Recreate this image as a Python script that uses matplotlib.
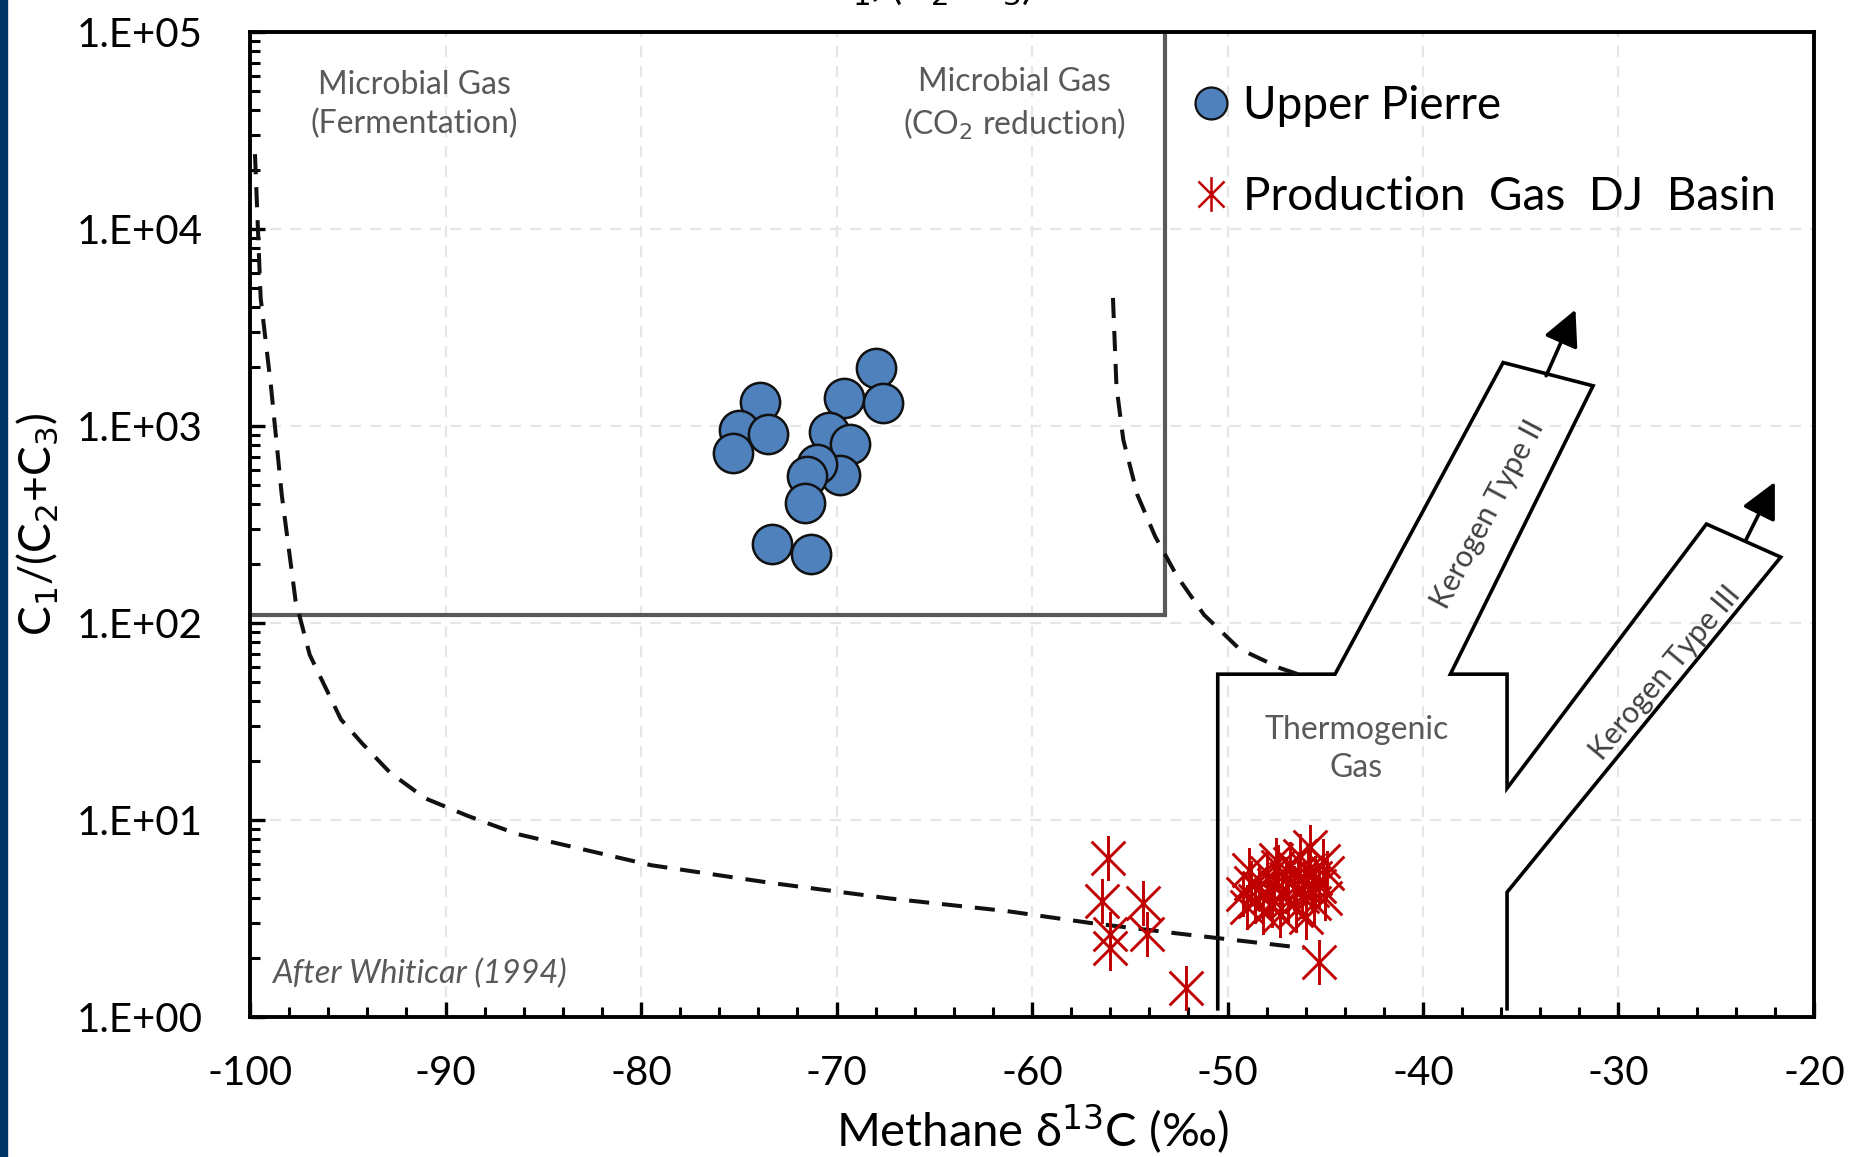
import numpy as np
import matplotlib
matplotlib.use("Agg")
import matplotlib.pyplot as plt
from matplotlib.path import Path
from matplotlib.lines import Line2D
from matplotlib.patches import Rectangle

plt.rcParams['font.family'] = ['Lato', 'DejaVu Sans']

# Upper Pierre samples: methane d13C and C1/(C2+C3)
pierre_d13c = [-73.9, -75.0, -73.5, -75.3, -68.0, -69.6, -67.6, -70.4,
               -69.3, -69.8, -71.0, -71.5, -71.6, -73.3, -71.3]
pierre_ratio = [1330, 950, 910, 730, 1980, 1380, 1310, 930,
                810, 566, 640, 560, 407, 253, 224]

# Production gas, DJ Basin
prod_d13c = [-56.1, -56.4, -54.3, -56.0, -54.1, -56.0, -52.1, -45.3,
             -49.2, -49.0, -48.8, -48.6, -48.4, -48.2, -48.0, -47.9,
             -47.7, -47.6, -47.4, -47.3, -47.2, -47.0, -46.9, -46.8,
             -46.6, -46.5, -46.4, -46.2, -46.1, -46.0, -45.9, -45.8,
             -45.7, -45.6, -45.5, -45.3, -45.1, -45.0, -48.9, -47.5,
             -46.3, -44.9]
prod_ratio = [6.4, 3.9, 3.8, 2.65, 2.65, 2.25, 1.41, 1.9,
              4.2, 3.6, 4.8, 3.9, 4.5, 3.4, 5.4, 4.1,
              3.7, 4.7, 5.8, 3.3, 4.3, 5.0, 3.9, 6.0,
              4.5, 3.5, 5.3, 4.1, 4.8, 3.2, 5.6, 7.3,
              4.4, 3.8, 5.1, 4.6, 6.2, 4.0, 5.6, 6.3,
              6.6, 5.4]

# Field boundaries (after Whiticar)
microbial_x = [-100, -53.2, -53.2]
microbial_y = [110, 110, 1e5]

thermo_x = [-50.5, -50.5, -44.5, -35.9, -31.3, -38.6, -35.7, -35.7,
            -25.5, -21.7, -35.7, -35.7]
thermo_y = [1.1, 55, 55, 2100, 1600, 55, 55, 14.5,
            318, 216, 4.3, 1.1]

dash_left_x = [-99.75, -99.46, -98.93, -98.38, -97.67, -96.95, -96.23, -95.35,
               -94.27, -92.84, -91.05, -88.87, -86.36, -79.5, -73.4, -67.3,
               -61.3, -57.0, -52.2, -46.1]
dash_left_y = [24000, 4470, 1585, 447, 129, 69, 49, 32.4,
               24.5, 17.4, 12.9, 10.5, 8.5, 5.9, 4.8, 4.0,
               3.45, 3.0, 2.63, 2.24]

dash_right_x = [-55.86, -55.68, -55.33, -54.61, -53.7, -52.6, -51.2, -49.4,
                -47.3, -46.4]
dash_right_y = [4470, 1585, 851, 447, 275, 174, 110, 74,
                59, 55]

arrow_k2 = ((-33.7, 1800), (-32.2, 3900))
arrow_k3 = ((-23.5, 262), (-22.0, 520))

x_ticks = np.arange(-100, -19, 10)
y_ticks = [1, 10, 100, 1000, 10000, 100000]
y_labels = ['1.E+00', '1.E+01', '1.E+02', '1.E+03', '1.E+04', '1.E+05']

# asterisk-like marker: vertical bar plus an X
star = Path([(0, -1), (0, 1), (-0.75, -0.75), (0.75, 0.75), (-0.75, 0.75), (0.75, -0.75)],
            [Path.MOVETO, Path.LINETO, Path.MOVETO, Path.LINETO, Path.MOVETO, Path.LINETO])

fig = plt.figure(figsize=(18.58, 11.57), dpi=100)
fig.patches.append(Rectangle((0, 0), 7 / 1858, 1, transform=fig.transFigure,
                             color='#003366', zorder=0))
ax = fig.add_axes([0.1346, 0.121, 0.9763 - 0.1346, 0.9723 - 0.121])

ax.set_xlim(-100, -20)
ax.set_ylim(1, 1e5)
ax.set_yscale('log')

ax.grid(True, which='major', color='#e6e6e6', linestyle=(0, (5, 4)), linewidth=1.6)
ax.set_axisbelow(True)

grey = '#595959'
ax.plot(microbial_x, microbial_y, color=grey, lw=3, zorder=2, solid_joinstyle='miter')
ax.plot(thermo_x, thermo_y, color='black', lw=2.6, zorder=2, solid_joinstyle='miter')
ax.plot(dash_left_x, dash_left_y, color='#111111', lw=2.9, ls=(0, (5, 3.2)), zorder=2)
ax.plot(dash_right_x, dash_right_y, color='#111111', lw=2.9, ls=(0, (5, 3.2)), zorder=2)

for start, end in (arrow_k2, arrow_k3):
    ax.annotate('', xy=end, xytext=start,
                arrowprops=dict(arrowstyle='-|>,head_length=1.1,head_width=0.55',
                                mutation_scale=20, color='black', lw=2.6,
                                shrinkA=0, shrinkB=0))

ax.scatter(pierre_d13c, pierre_ratio, s=800, color='#4f81bd', edgecolors='#111111',
           linewidths=1.8, zorder=4)
ax.scatter(prod_d13c, prod_ratio, s=1050, marker=star, color='#c00000',
           linewidths=2.1, zorder=5)

# region labels
tk = dict(color=grey, fontsize=23, ha='center', va='center', linespacing=1.35)
ax.text(-91.6, 4.3e4, 'Microbial Gas\n(Fermentation)', **tk)
ax.text(-60.9, 4.3e4, 'Microbial Gas\n(CO$_2$ reduction)', **tk)
ax.text(-43.4, 23, 'Thermogenic\nGas', **tk)
ax.text(-98.9, 1.65, 'After Whiticar (1994)', color=grey, fontsize=23.5,
        style='italic', ha='left', va='center')
ax.text(-36.7, 355, 'Kerogen Type II', color='#404040', fontsize=21.5, rotation=62,
        ha='center', va='center', rotation_mode='anchor')
ax.text(-27.6, 56, 'Kerogen Type III', color='#404040', fontsize=21.5, rotation=50,
        ha='center', va='center', rotation_mode='anchor')

handles = [
    Line2D([], [], ls='none', marker='o', ms=23, mfc='#4f81bd', mec='#111111', mew=1.6),
    Line2D([], [], ls='none', marker=star, ms=25, color='#c00000', mew=1.8),
]
ax.legend(handles, ['Upper Pierre', 'Production  Gas  DJ  Basin'], loc='upper left',
          bbox_to_anchor=(0.588, 0.969), frameon=False, fontsize=33,
          handlelength=0.8, handletextpad=0.3, labelspacing=1.05, borderpad=0)

ax.set_xticks(x_ticks)
ax.set_xticklabels([str(v) for v in x_ticks])
ax.set_xticks(np.arange(-100, -19, 2), minor=True)
ax.set_yticks(y_ticks)
ax.set_yticklabels(y_labels)
ax.tick_params(axis='both', which='major', direction='in', length=11, width=2.4,
               labelsize=29, colors='black')
ax.tick_params(axis='x', which='major', pad=27)
ax.tick_params(axis='y', which='major', pad=34)
ax.tick_params(axis='both', which='minor', direction='in', length=7, width=2.2)
for side in ax.spines.values():
    side.set_linewidth(2.8)
    side.set_color('black')

ax.set_xlabel('Methane δ$^{13}$C (‰)', fontsize=34, labelpad=8)
ax.set_ylabel('C$_1$/(C$_2$+C$_3$)', fontsize=32, labelpad=12)

fig.text(0.5, 1.0 + 0.031, 'C$_1$/(C$_2$+C$_3$)', fontsize=30, ha='center', va='top')

fig.savefig('out.png', dpi=100)
